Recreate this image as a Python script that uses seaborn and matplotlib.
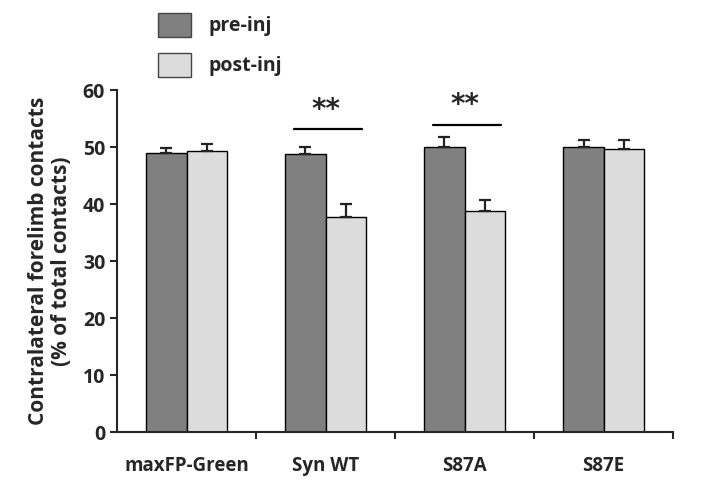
import numpy as np
import pandas as pd
import seaborn as sns
import matplotlib.pyplot as plt
from matplotlib.patches import Patch

# values
groups = ['maxFP-Green', 'Syn WT', 'S87A', 'S87E']
phases = ['pre-inj', 'post-inj']
pre_mean = [48.9, 48.8, 50.1, 50.0]
post_mean = [49.3, 37.7, 38.8, 49.6]
pre_err = [1.0, 1.3, 1.7, 1.2]
post_err = [1.3, 2.3, 1.9, 1.6]
sig_groups = ['Syn WT', 'S87A']
sig_line_y = [53.1, 53.9]
sig_text = '**'
colors = ['#808080', '#dcdcdc']

df = pd.DataFrame({
    'group': groups * 2,
    'phase': [phases[0]] * 4 + [phases[1]] * 4,
    'value': pre_mean + post_mean,
})

sns.set_style('ticks')
plt.rcParams['font.family'] = ['Open Sans', 'DejaVu Sans']
plt.rcParams['font.weight'] = 'bold'

fig = plt.figure(figsize=(7.2, 4.82), dpi=100)
ax = fig.add_axes([0.1625, 0.1037, 0.7725, 0.7093])

sns.barplot(data=df, x='group', y='value', hue='phase', order=groups,
            hue_order=phases, palette=colors, width=0.58, errorbar=None,
            edgecolor='black', linewidth=1.0, legend=False, ax=ax)

# upward-only error bars placed on the bars seaborn drew
bars = [p for p in ax.patches if p.get_height() > 0]
means = pre_mean + post_mean
errs = pre_err + post_err
xs = [b.get_x() + b.get_width() / 2 for b in bars]
ax.errorbar(xs, means, yerr=[np.zeros(len(errs)), errs], fmt='none',
            ecolor='#222222', elinewidth=1.6, capsize=4, capthick=1.6)

# significance marks
for g, yl in zip(sig_groups, sig_line_y):
    i = groups.index(g)
    ax.plot([i - 0.23, i + 0.26], [yl, yl], color='black', lw=1.6)
    ax.text(i, yl + 1.0, sig_text, ha='center', va='bottom',
            fontsize=20, fontweight='bold', family='DejaVu Sans')

ax.set_xlim(-0.5, 3.5)
ax.set_ylim(0, 60)
ax.set_yticks([0, 10, 20, 30, 40, 50, 60])
ax.set_yticklabels([str(v) for v in [0, 10, 20, 30, 40, 50, 60]],
                   fontsize=14, fontweight='bold')
ax.tick_params(axis='y', length=5, width=1.5, direction='out')
ax.set_xticks(range(len(groups)))
ax.set_xticklabels(groups, fontsize=13.5, fontweight='bold')
ax.tick_params(axis='x', length=0, pad=17)
ax.set_xticks([0.5, 1.5, 2.5, 3.5], minor=True)
ax.tick_params(axis='x', which='minor', length=5, width=1.5)

ax.set_xlabel('')
ax.set_ylabel('Contralateral forelimb contacts\n(% of total contacts)',
              fontsize=15, fontweight='bold', labelpad=8, linespacing=1.1)
sns.despine(ax=ax)
ax.spines['left'].set_linewidth(1.5)
ax.spines['bottom'].set_linewidth(1.5)

handles = [Patch(facecolor=c, edgecolor='#444444', linewidth=1) for c in colors]
fig.legend(handles, phases, loc='upper left', bbox_to_anchor=(0.195, 1.01),
           frameon=False, handlelength=1.7, handleheight=1.55,
           labelspacing=0.8, handletextpad=0.9, prop={'weight': 'bold', 'size': 14})

fig.savefig('out.png', dpi=100)
